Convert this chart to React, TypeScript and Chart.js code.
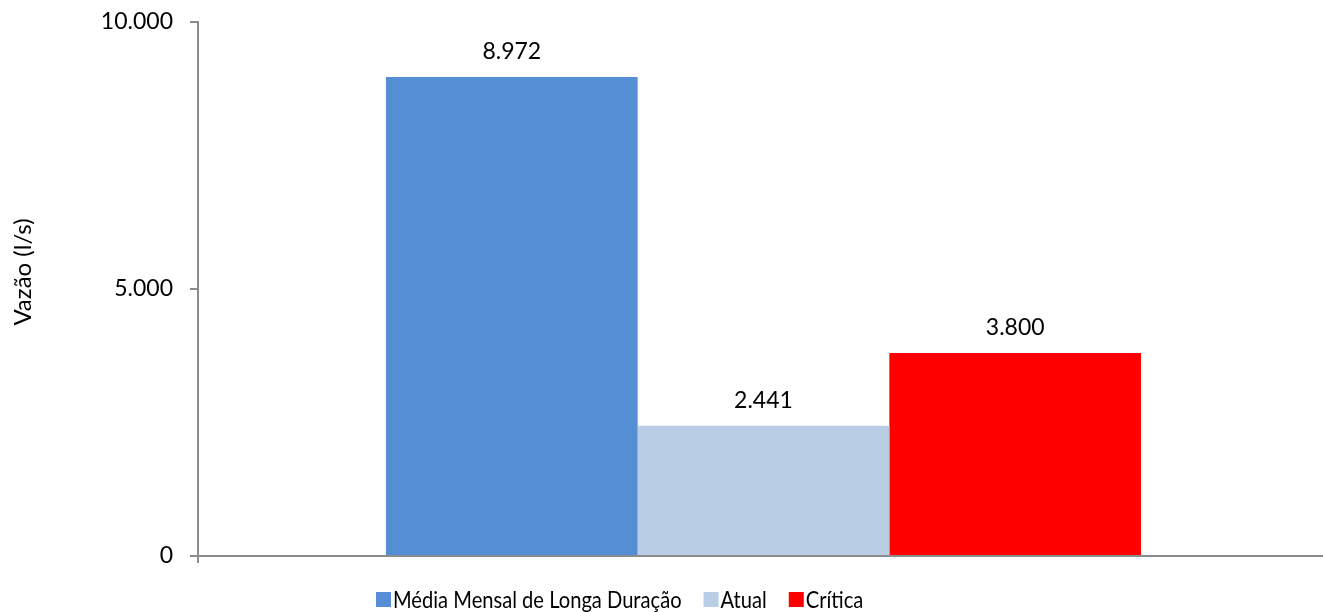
import React, { useEffect, useRef } from "react";
import { Chart, registerables } from "chart.js";

Chart.register(...registerables);

const categories = [""];
const seriesNames = ["Média Mensal de Longa Duração", "Atual", "Crítica"];
const seriesValues = [[8972], [2441], [3800]];
const seriesColors = ["#558ED5", "#B9CDE5", "#FF0000"];
const yTicks = [0, 5000, 10000];
const yTitle = "Vazão (l/s)";

const FONT = "Lato";
const AXIS = "#8C8C8C";

const fmt = (v: number) => {
  const s = Math.round(v).toString();
  return s.replace(/\B(?=(\d{3})+(?!\d))/g, ".");
};

const areaPlugin = {
  id: "areaFix",
  afterLayout(chart: any) {
    const xs = chart.scales.x;
    const right = chart.width + 6;
    chart.chartArea.right = right;
    chart.chartArea.width = right - chart.chartArea.left;
    xs.right = right;
    xs.width = right - xs.left;
    xs.configure();
  },
};

const labelsPlugin = {
  id: "customLabels",
  afterDraw(chart: any) {
    const ctx = chart.ctx;
    ctx.save();
    // data labels
    ctx.fillStyle = "#000";
    ctx.font = `23px ${FONT}`;
    ctx.textAlign = "center";
    ctx.textBaseline = "alphabetic";
    chart.data.datasets.forEach((ds: any, i: number) => {
      const meta = chart.getDatasetMeta(i);
      meta.data.forEach((el: any, j: number) => {
        ctx.fillText(fmt(ds.data[j]), el.x, el.y - 18);
      });
    });
    // y title
    ctx.save();
    ctx.translate(23, 272);
    ctx.rotate(-Math.PI / 2);
    ctx.font = `24px ${FONT}`;
    ctx.textAlign = "center";
    ctx.textBaseline = "middle";
    ctx.fillText(yTitle, 0, 0);
    ctx.restore();
    // legend
    ctx.font = `23px ${FONT}`;
    ctx.textAlign = "left";
    ctx.textBaseline = "alphabetic";
    const sx = 0.875;
    let x = 375;
    chart.data.datasets.forEach((ds: any) => {
      ctx.fillStyle = ds.backgroundColor;
      ctx.fillRect(x + 1, 592, 15, 15);
      ctx.fillStyle = "#000";
      const tx = x + 18;
      ctx.save();
      ctx.translate(tx, 608);
      ctx.scale(sx, 1);
      ctx.fillText(ds.label, 0, 0);
      ctx.restore();
      x += 18 + ctx.measureText(ds.label).width * sx + 21;
    });
    ctx.restore();
  },
};

export default function App() {
  const ref = useRef<HTMLCanvasElement>(null);
  useEffect(() => {
    if (!ref.current) return;
    const chart = new Chart(ref.current, {
      type: "bar",
      data: {
        labels: categories,
        datasets: seriesNames.map((name, i) => ({
          label: name,
          data: seriesValues[i],
          backgroundColor: seriesColors[i],
          borderWidth: 0,
          barPercentage: 1,
          categoryPercentage: 0.6676,
        })),
      },
      options: {
        animation: false,
        responsive: false,
        devicePixelRatio: 1,
        layout: { autoPadding: false, padding: { top: 22, right: 0, left: 0, bottom: 0 } },
        plugins: {
          legend: { display: false },
          tooltip: { enabled: false },
          title: { display: false },
        },
        scales: {
          x: {
            ticks: { display: false },
            grid: {
              display: true,
              offset: true,
              drawOnChartArea: false,
              drawTicks: true,
              tickLength: 7,
              lineWidth: 2,
              color: AXIS,
            },
            border: { display: true, color: AXIS, width: 2 },
            afterFit(scale: any) {
              scale.height = 56;
              scale.paddingLeft = 0;
              scale.paddingRight = 0;
            },
          },
          y: {
            min: 0,
            max: 10000,
            afterBuildTicks(scale: any) {
              scale.ticks = yTicks.map((v) => ({ value: v }));
            },
            ticks: {
              padding: 17,
              color: "#000",
              font: { family: FONT, size: 23 },
              callback: (v: any) => fmt(Number(v)),
            },
            grid: {
              display: true,
              drawOnChartArea: false,
              drawTicks: true,
              tickLength: 8,
              lineWidth: 2,
              color: AXIS,
            },
            border: { display: true, color: AXIS, width: 2 },
            afterFit(scale: any) {
              scale.width = 198;
              scale.paddingTop = 0;
              scale.paddingBottom = 0;
            },
          },
        },
      },
      plugins: [areaPlugin, labelsPlugin],
    });
    return () => chart.destroy();
  }, []);
  return (
    <div style={{ position: "fixed", left: 0, top: 0, width: 1323, height: 612, background: "#fff" }}>
      <canvas ref={ref} width={1323} height={612} style={{ display: "block" }} />
    </div>
  );
}
